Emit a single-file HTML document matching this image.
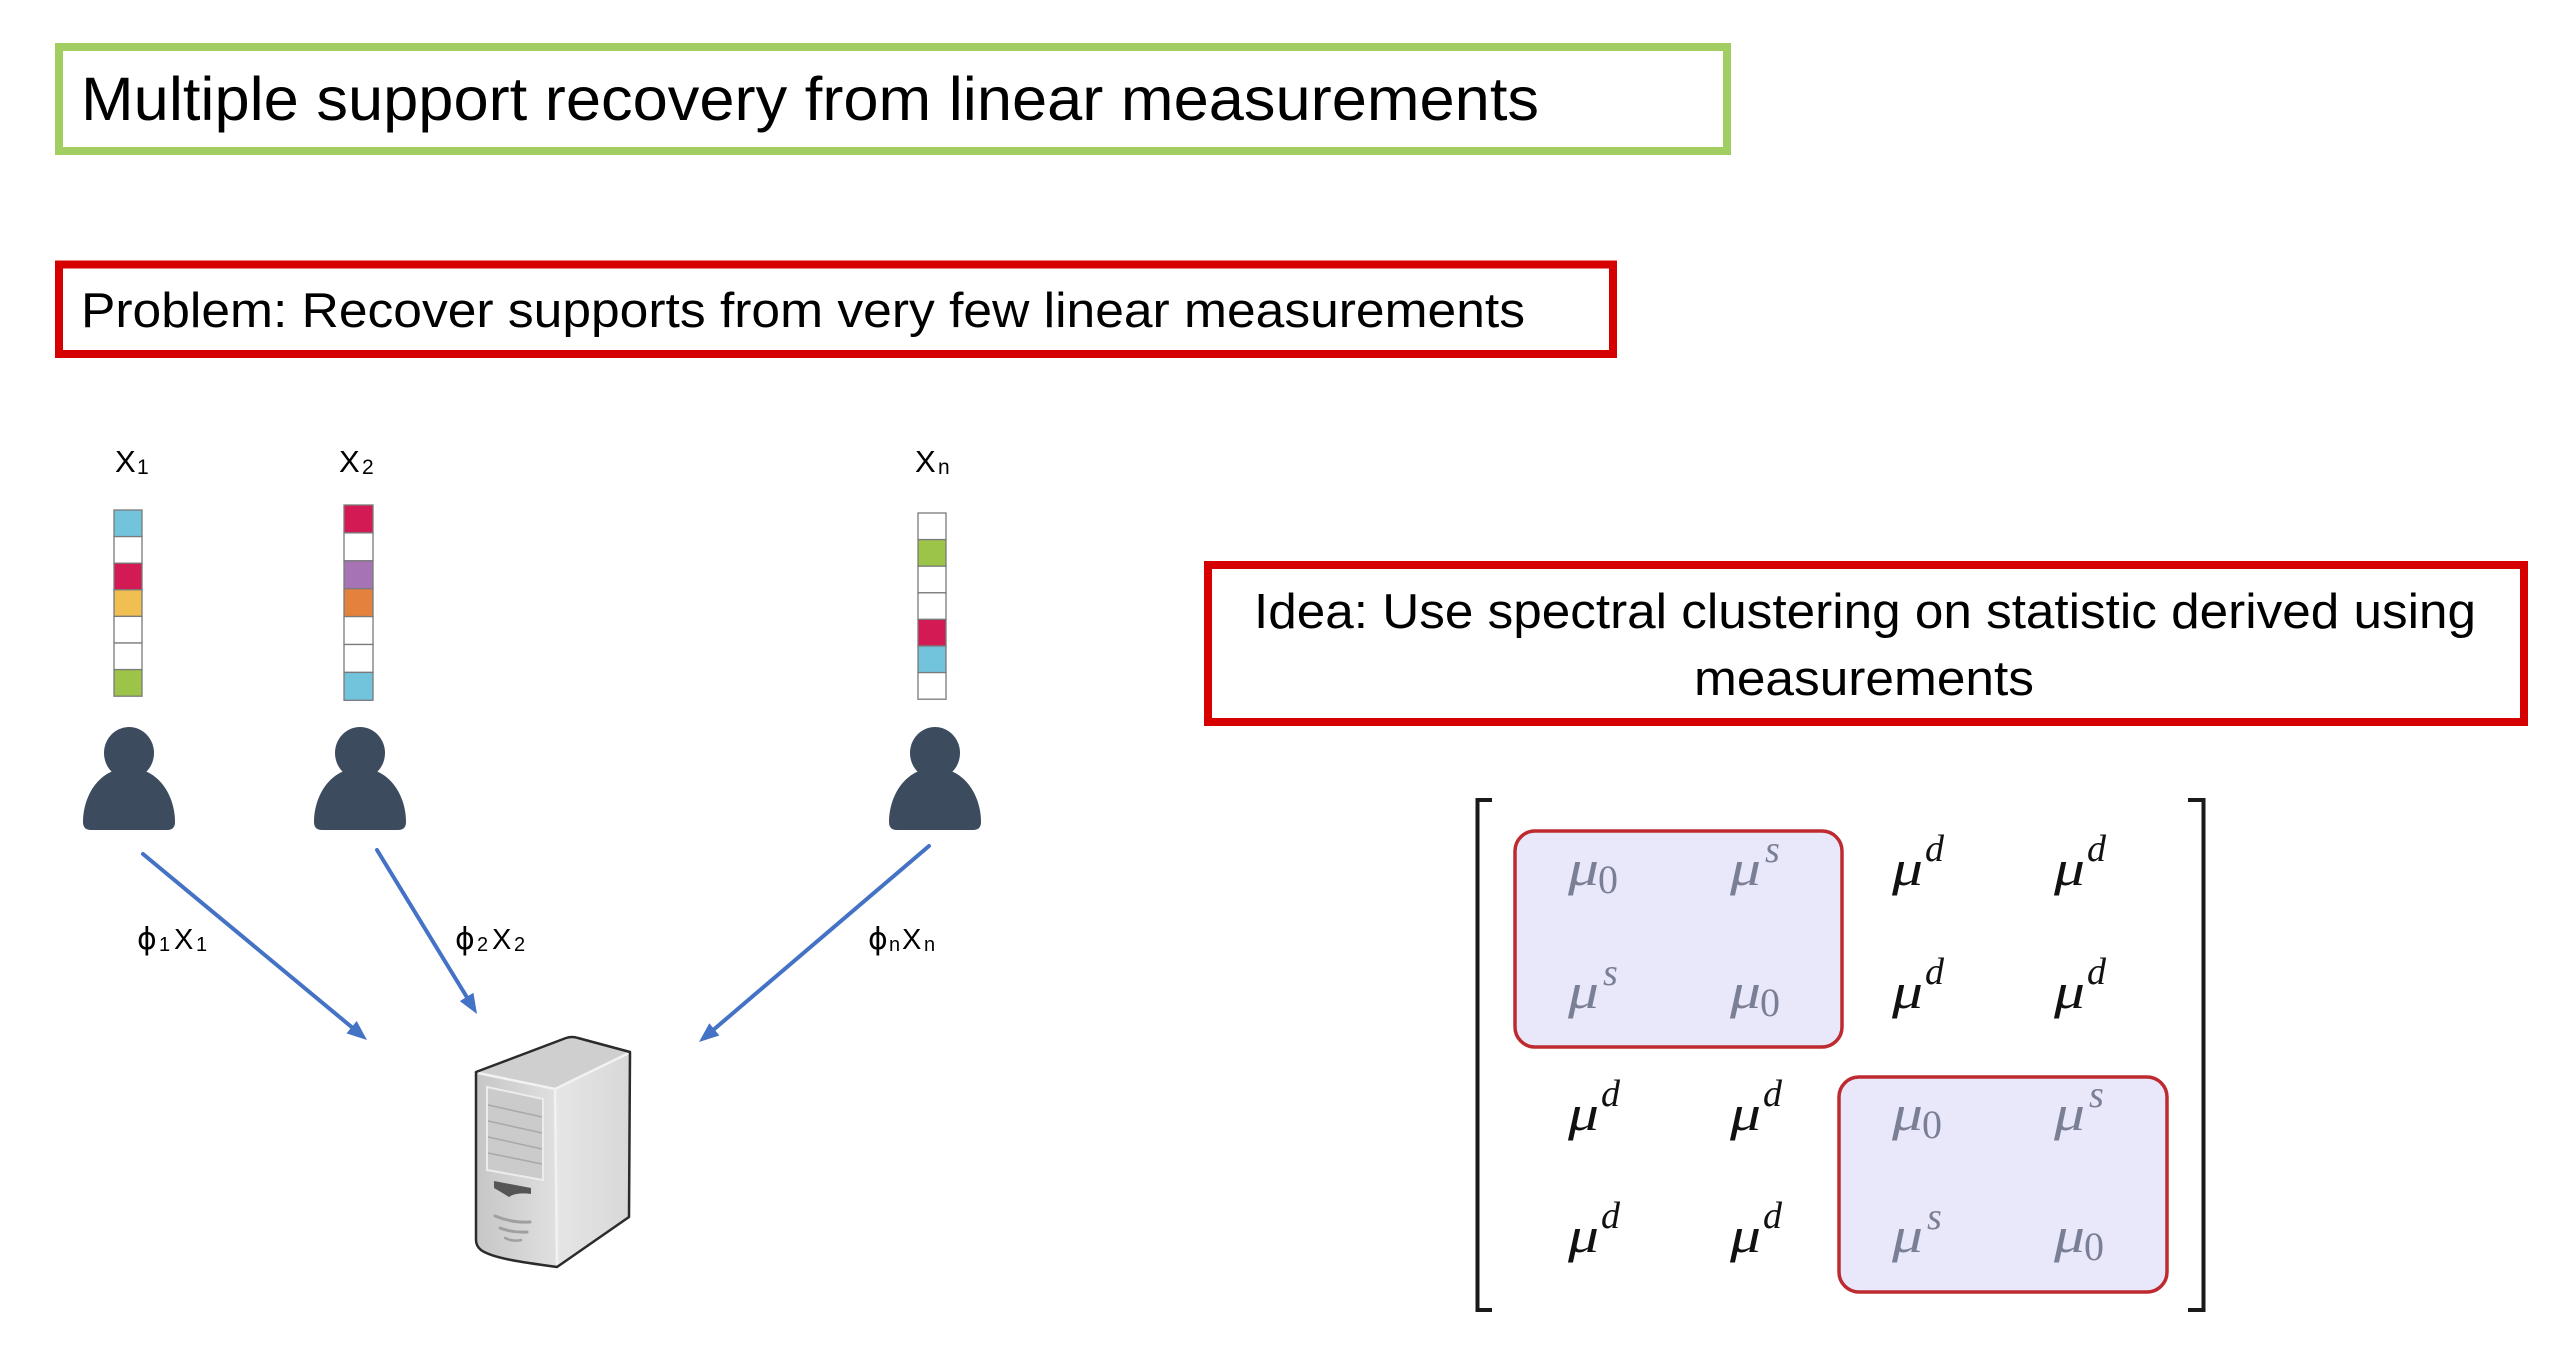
<!DOCTYPE html>
<html>
<head>
<meta charset="utf-8">
<style>
  html,body{margin:0;padding:0;background:#fff;}
  svg{display:block;}
  .sans{font-family:"Liberation Sans","DejaVu Sans",sans-serif;fill:#000;}
  .phi{font-family:"DejaVu Sans","Liberation Sans",sans-serif;fill:#000;}
  .mu{font-family:"Liberation Serif","DejaVu Serif",serif;font-style:italic;font-size:50px;}
  .sup{font-family:"Liberation Serif","DejaVu Serif",serif;font-style:italic;font-size:38px;}
  .sub{font-family:"Liberation Serif","DejaVu Serif",serif;font-size:40px;}
  .g{fill:#7b7f96;}
  .k{fill:#111;}
</style>
</head>
<body>
<svg width="2560" height="1356" viewBox="0 0 2560 1356" xmlns="http://www.w3.org/2000/svg">
  <defs>
    <linearGradient id="front" x1="0" y1="0" x2="1" y2="0">
      <stop offset="0" stop-color="#c6c6c6"/>
      <stop offset="1" stop-color="#e0e0e0"/>
    </linearGradient>
    <linearGradient id="side" x1="0" y1="0" x2="1" y2="0">
      <stop offset="0" stop-color="#e6e6e6"/>
      <stop offset="1" stop-color="#d8d8d8"/>
    </linearGradient>
  </defs>

  <!-- Title box -->
  <rect x="59" y="47" width="1668" height="104" fill="#fff" stroke="#a2cd60" stroke-width="8"/>
  <text class="sans" x="81" y="120" font-size="61" textLength="1458" lengthAdjust="spacingAndGlyphs">Multiple support recovery from linear measurements</text>

  <!-- Problem box -->
  <rect x="59" y="264.5" width="1554" height="89.5" fill="#fff" stroke="#d60000" stroke-width="8"/>
  <text class="sans" x="81" y="327" font-size="49.5" textLength="1444" lengthAdjust="spacingAndGlyphs">Problem: Recover supports from very few linear measurements</text>

  <!-- Idea box -->
  <rect x="1208" y="565" width="1316" height="157" fill="#fff" stroke="#d60000" stroke-width="8"/>
  <text class="sans" x="1865" y="628" font-size="49.5" text-anchor="middle" textLength="1222" lengthAdjust="spacingAndGlyphs">Idea: Use spectral clustering on statistic derived using</text>
  <text class="sans" x="1864" y="695" font-size="49.5" text-anchor="middle" textLength="340" lengthAdjust="spacingAndGlyphs">measurements</text>

  <!-- X labels -->
  <text class="sans" x="115" y="472" font-size="31">X</text>
  <text class="sans" x="137" y="474" font-size="21">1</text>
  <text class="sans" x="339" y="472" font-size="31">X</text>
  <text class="sans" x="362" y="474" font-size="21">2</text>
  <text class="sans" x="915" y="472" font-size="31">X</text>
  <text class="sans" x="938" y="474" font-size="21">n</text>

  <!-- Bars -->
  <g stroke="#7a7a7a" stroke-width="1.3">
    <!-- X1 -->
    <rect x="114" y="510" width="28" height="26.6" fill="#72c3dc"/>
    <rect x="114" y="536.6" width="28" height="26.6" fill="#fff"/>
    <rect x="114" y="563.2" width="28" height="26.6" fill="#d31a55"/>
    <rect x="114" y="589.8" width="28" height="26.6" fill="#f1be52"/>
    <rect x="114" y="616.4" width="28" height="26.6" fill="#fff"/>
    <rect x="114" y="643" width="28" height="26.6" fill="#fff"/>
    <rect x="114" y="669.6" width="28" height="26.6" fill="#9cc449"/>
    <!-- X2 -->
    <rect x="344" y="505" width="29" height="27.9" fill="#d31a55"/>
    <rect x="344" y="532.9" width="29" height="27.9" fill="#fff"/>
    <rect x="344" y="560.8" width="29" height="27.9" fill="#a673b5"/>
    <rect x="344" y="588.7" width="29" height="27.9" fill="#e4813c"/>
    <rect x="344" y="616.6" width="29" height="27.9" fill="#fff"/>
    <rect x="344" y="644.5" width="29" height="27.9" fill="#fff"/>
    <rect x="344" y="672.4" width="29" height="27.9" fill="#72c3dc"/>
    <!-- Xn -->
    <rect x="918" y="513" width="28" height="26.6" fill="#fff"/>
    <rect x="918" y="539.6" width="28" height="26.6" fill="#9cc449"/>
    <rect x="918" y="566.2" width="28" height="26.6" fill="#fff"/>
    <rect x="918" y="592.8" width="28" height="26.6" fill="#fff"/>
    <rect x="918" y="619.4" width="28" height="26.6" fill="#d31a55"/>
    <rect x="918" y="646" width="28" height="26.6" fill="#72c3dc"/>
    <rect x="918" y="672.6" width="28" height="26.6" fill="#fff"/>
  </g>

  <!-- Persons -->
  <g fill="#3d4b5f">
    <ellipse cx="129" cy="753" rx="25" ry="26"/>
    <path d="M83,822 C83,796 99,768 129,768 C159,768 175,796 175,822 Q175,830 167,830 L91,830 Q83,830 83,822 Z"/>
    <ellipse cx="360" cy="753" rx="25" ry="26"/>
    <path d="M314,822 C314,796 330,768 360,768 C390,768 406,796 406,822 Q406,830 398,830 L322,830 Q314,830 314,822 Z"/>
    <ellipse cx="935" cy="753" rx="25" ry="26"/>
    <path d="M889,822 C889,796 905,768 935,768 C965,768 981,796 981,822 Q981,830 973,830 L897,830 Q889,830 889,822 Z"/>
  </g>

  <!-- Arrows -->
  <g stroke="#4472c4" stroke-width="4" stroke-linecap="round">
    <line x1="143" y1="854" x2="354" y2="1029"/>
    <line x1="377" y1="850" x2="468" y2="999"/>
    <line x1="929" y1="846" x2="712" y2="1031"/>
  </g>
  <g fill="#4472c4">
    <polygon points="367,1040 346.5,1033.4 356.7,1021"/>
    <polygon points="477,1014 459.8,1001.1 473.4,992.7"/>
    <polygon points="699,1042 709.3,1023.2 719.4,1035.5"/>
  </g>

  <!-- Arrow labels -->
  <text class="phi" x="137" y="949" font-size="30">ϕ</text>
  <text class="sans" x="159" y="951" font-size="20">1</text>
  <text class="sans" x="174" y="949" font-size="29">X</text>
  <text class="sans" x="196" y="951" font-size="20">1</text>

  <text class="phi" x="455" y="949" font-size="30">ϕ</text>
  <text class="sans" x="477" y="951" font-size="20">2</text>
  <text class="sans" x="492" y="949" font-size="29">X</text>
  <text class="sans" x="514" y="951" font-size="20">2</text>

  <text class="phi" x="868" y="949" font-size="30">ϕ</text>
  <text class="sans" x="889" y="951" font-size="20">n</text>
  <text class="sans" x="902" y="949" font-size="29">X</text>
  <text class="sans" x="924" y="951" font-size="20">n</text>

  <!-- Server -->
  <g>
    <path d="M476,1072 L555,1088 L630,1052 L578,1038 Q572,1036 566,1038 Z" fill="#cfcfcf"/>
    <path d="M476,1072 L555,1088 L557,1267 C520,1262 492,1258 481,1250 Q476,1246 476,1240 Z" fill="url(#front)"/>
    <path d="M555,1088 L630,1052 L629,1217 L557,1267 Z" fill="url(#side)"/>
    <path d="M478,1073 L555,1089 L629,1053" fill="none" stroke="#f2f2f2" stroke-width="2.5"/>
    <path d="M555,1089 L557,1265" fill="none" stroke="#f2f2f2" stroke-width="2.5"/>
    <polygon points="487,1087 543,1099 543,1180 487,1170" fill="#cbcbcb" stroke="#ececec" stroke-width="2"/>
    <g stroke="#a9a9a9" stroke-width="1.5">
      <line x1="488" y1="1105" x2="542" y2="1117"/>
      <line x1="488" y1="1121" x2="542" y2="1133"/>
      <line x1="488" y1="1137" x2="542" y2="1149"/>
      <line x1="488" y1="1153" x2="542" y2="1164"/>
    </g>
    <path d="M494,1181 L531,1188 L531,1194 Q516,1192 509,1197 Q501,1192 494,1188 Z" fill="#555"/>
    <g fill="none" stroke="#a0a0a0" stroke-linecap="round">
      <path d="M495,1216 Q512,1223 530,1222" stroke-width="3"/>
      <path d="M500,1228 Q513,1233 527,1232" stroke-width="3"/>
      <path d="M505,1238 Q513,1242 521,1240" stroke-width="2.5"/>
    </g>
    <path d="M476,1072 L566,1038 Q572,1036 578,1038 L630,1052 L629,1217 L557,1267 C520,1262 492,1258 481,1250 Q476,1246 476,1240 Z" fill="none" stroke="#2b2b2b" stroke-width="2.5" stroke-linejoin="round"/>
  </g>

  <!-- Matrix brackets -->
  <g fill="none" stroke="#1a1a1a" stroke-width="4">
    <path d="M1492,800 L1477.5,800 L1477.5,1310 L1492,1310"/>
    <path d="M2188,800 L2203.5,800 L2203.5,1310 L2188,1310"/>
  </g>

  <!-- Block boxes -->
  <rect x="1515" y="831" width="327" height="216" rx="20" ry="20" fill="#e8e8fa" stroke="#be2a2f" stroke-width="3.5"/>
  <rect x="1839" y="1077" width="328" height="215" rx="20" ry="20" fill="#e8e8fa" stroke="#be2a2f" stroke-width="3.5"/>

  <!-- Row 1 -->
  <text class="mu g" x="1568" y="885" textLength="31" lengthAdjust="spacingAndGlyphs">μ</text><text class="sub g" x="1598" y="893">0</text>
  <text class="mu g" x="1730" y="885" textLength="31" lengthAdjust="spacingAndGlyphs">μ</text><text class="sup g" x="1765" y="862">s</text>
  <text class="mu k" x="1892" y="885" textLength="31" lengthAdjust="spacingAndGlyphs">μ</text><text class="sup k" x="1925" y="861">d</text>
  <text class="mu k" x="2054" y="885" textLength="31" lengthAdjust="spacingAndGlyphs">μ</text><text class="sup k" x="2087" y="861">d</text>
  <!-- Row 2 -->
  <text class="mu g" x="1568" y="1008" textLength="31" lengthAdjust="spacingAndGlyphs">μ</text><text class="sup g" x="1603" y="985">s</text>
  <text class="mu g" x="1730" y="1008" textLength="31" lengthAdjust="spacingAndGlyphs">μ</text><text class="sub g" x="1760" y="1016">0</text>
  <text class="mu k" x="1892" y="1008" textLength="31" lengthAdjust="spacingAndGlyphs">μ</text><text class="sup k" x="1925" y="984">d</text>
  <text class="mu k" x="2054" y="1008" textLength="31" lengthAdjust="spacingAndGlyphs">μ</text><text class="sup k" x="2087" y="984">d</text>
  <!-- Row 3 -->
  <text class="mu k" x="1568" y="1130" textLength="31" lengthAdjust="spacingAndGlyphs">μ</text><text class="sup k" x="1601" y="1106">d</text>
  <text class="mu k" x="1730" y="1130" textLength="31" lengthAdjust="spacingAndGlyphs">μ</text><text class="sup k" x="1763" y="1106">d</text>
  <text class="mu g" x="1892" y="1130" textLength="31" lengthAdjust="spacingAndGlyphs">μ</text><text class="sub g" x="1922" y="1138">0</text>
  <text class="mu g" x="2054" y="1130" textLength="31" lengthAdjust="spacingAndGlyphs">μ</text><text class="sup g" x="2089" y="1107">s</text>
  <!-- Row 4 -->
  <text class="mu k" x="1568" y="1252" textLength="31" lengthAdjust="spacingAndGlyphs">μ</text><text class="sup k" x="1601" y="1228">d</text>
  <text class="mu k" x="1730" y="1252" textLength="31" lengthAdjust="spacingAndGlyphs">μ</text><text class="sup k" x="1763" y="1228">d</text>
  <text class="mu g" x="1892" y="1252" textLength="31" lengthAdjust="spacingAndGlyphs">μ</text><text class="sup g" x="1927" y="1229">s</text>
  <text class="mu g" x="2054" y="1252" textLength="31" lengthAdjust="spacingAndGlyphs">μ</text><text class="sub g" x="2084" y="1260">0</text>
</svg>
</body>
</html>
